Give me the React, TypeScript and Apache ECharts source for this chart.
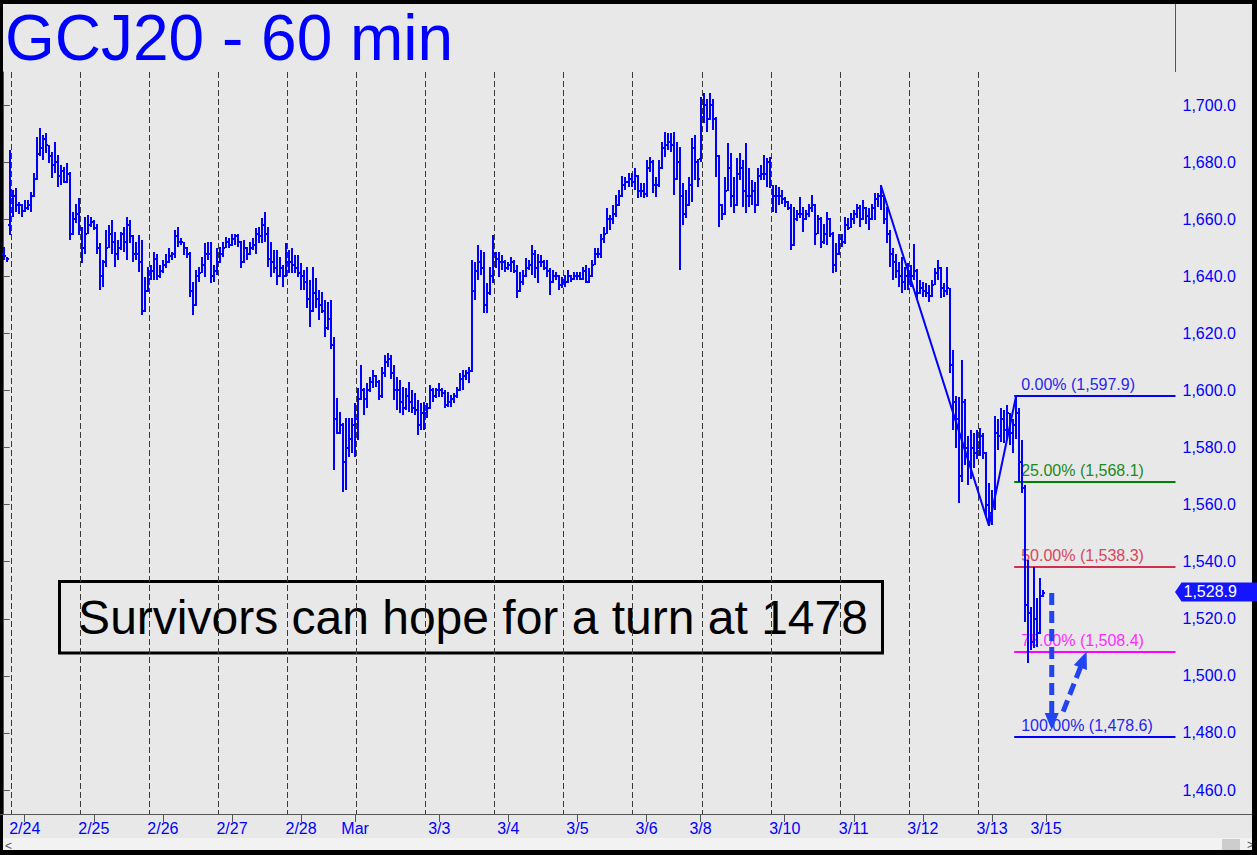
import React, { useEffect, useRef } from "react";
import * as echarts from "echarts";

// ---------- data (hourly bars, index 0..346) ----------
const highs = [
  1650.4, 1646.9, 1684.2, 1670.2, 1670.8, 1666.1, 1665.5, 1666.7, 1666.7, 1669.6,
  1676.1, 1688.9, 1691.9, 1689.5, 1690.1, 1686.0, 1683.7, 1687.2, 1682.5, 1679.0,
  1678.4, 1679.6, 1676.5, 1662.6, 1665.5, 1667.3, 1657.4, 1660.9, 1661.5, 1660.9,
  1659.7, 1658.5, 1651.6, 1645.7, 1656.2, 1658.0, 1659.7, 1655.6, 1652.7, 1655.4,
  1657.4, 1660.9, 1659.7, 1654.5, 1652.1, 1654.5, 1652.7, 1639.9, 1643.4, 1644.0,
  1648.6, 1648.0, 1644.0, 1645.7, 1648.0, 1649.8, 1648.6, 1656.2, 1657.4, 1653.3,
  1652.1, 1650.4, 1648.4, 1638.1, 1642.2, 1643.4, 1646.9, 1651.6, 1652.1, 1652.1,
  1644.0, 1649.8, 1650.4, 1652.1, 1653.9, 1653.3, 1655.0, 1655.0, 1655.0, 1652.5,
  1652.7, 1650.4, 1652.1, 1653.3, 1656.8, 1657.4, 1660.3, 1662.6, 1657.4, 1652.1,
  1649.2, 1649.2, 1646.9, 1644.0, 1651.6, 1649.2, 1649.8, 1647.5, 1647.5, 1644.5,
  1642.2, 1643.4, 1638.7, 1643.4, 1639.3, 1635.2, 1634.6, 1631.7, 1631.1, 1631.7,
  1618.8, 1597.2, 1592.6, 1588.5, 1590.2, 1590.2, 1590.2, 1595.5, 1600.7, 1608.9,
  1600.7, 1602.5, 1604.8, 1607.2, 1605.4, 1603.7, 1608.3, 1612.4, 1613.0, 1612.4,
  1608.9, 1604.8, 1603.7, 1601.3, 1600.7, 1603.1, 1600.2, 1599.0, 1596.7, 1595.5,
  1596.1, 1595.5, 1601.9, 1600.7, 1600.7, 1602.5, 1600.7, 1600.2, 1599.6, 1598.4,
  1599.0, 1601.3, 1606.0, 1607.2, 1607.2, 1608.3, 1645.7, 1645.1, 1651.0, 1649.2,
  1648.6, 1637.5, 1643.4, 1654.5, 1648.6, 1648.6, 1647.5, 1645.7, 1645.1, 1646.9,
  1645.7, 1644.0, 1641.6, 1642.2, 1646.3, 1645.7, 1651.0, 1649.2, 1648.0, 1647.5,
  1645.7, 1645.7, 1642.8, 1642.2, 1641.6, 1640.5, 1639.9, 1640.4, 1642.2, 1640.4,
  1641.6, 1641.6, 1641.6, 1643.4, 1644.0, 1642.8, 1645.7, 1649.8, 1649.8, 1655.0,
  1657.4, 1663.8, 1661.5, 1665.0, 1668.5, 1670.2, 1675.0, 1674.9, 1676.1, 1676.1,
  1677.8, 1675.5, 1672.6, 1672.6, 1680.7, 1681.9, 1680.7, 1674.9, 1680.7, 1687.2,
  1690.7, 1690.1, 1690.1, 1690.7, 1687.2, 1685.4, 1672.6, 1670.2, 1674.9, 1688.3,
  1689.5, 1681.0, 1703.0, 1704.3, 1702.3, 1704.1, 1702.3, 1696.0, 1682.5, 1665.5,
  1674.9, 1686.6, 1683.1, 1674.9, 1681.3, 1683.1, 1680.7, 1686.6, 1677.8, 1673.7,
  1673.1, 1677.8, 1679.0, 1682.5, 1681.3, 1681.9, 1672.0, 1672.0, 1671.4, 1670.2,
  1667.9, 1666.5, 1665.5, 1664.4, 1663.2, 1667.9, 1664.4, 1663.2, 1665.5, 1668.5,
  1665.5, 1661.5, 1660.9, 1658.5, 1662.6, 1660.5, 1655.5, 1651.6, 1655.0, 1655.0,
  1660.9, 1660.3, 1662.1, 1663.2, 1665.5, 1665.0, 1666.7, 1664.4, 1663.8, 1665.5,
  1669.1, 1669.1, 1671.9, 1668.4, 1664.4, 1656.2, 1649.8, 1648.0, 1645.1, 1646.9,
  1643.4, 1644.5, 1643.9, 1651.5, 1642.5, 1638.7, 1638.1, 1637.5, 1636.9, 1638.7,
  1642.8, 1645.7, 1643.4, 1637.5, 1643.4, 1636.0, 1614.2, 1598.0, 1597.8, 1610.7,
  1597.0, 1584.0, 1586.0, 1585.0, 1586.0, 1587.0, 1585.0, 1578.5, 1567.5, 1565.0,
  1591.0, 1590.0, 1594.0, 1593.0, 1595.0, 1592.0, 1590.0, 1597.9, 1594.0, 1582.6,
  1567.0, 1540.6, 1524.3, 1538.3, 1527.2, 1534.2, 1530.1,
];
const lows = [
  1645.7, 1645.1, 1654.4, 1660.9, 1662.6, 1662.0, 1660.9, 1662.6, 1663.2, 1662.6,
  1667.9, 1673.7, 1682.0, 1680.8, 1683.1, 1679.6, 1674.3, 1676.1, 1671.4, 1672.0,
  1672.6, 1672.8, 1652.7, 1654.5, 1658.6, 1654.5, 1644.5, 1648.0, 1655.0, 1657.4,
  1656.2, 1648.0, 1635.2, 1636.4, 1643.4, 1649.8, 1648.0, 1643.4, 1645.7, 1649.2,
  1648.6, 1645.7, 1651.6, 1645.1, 1645.7, 1641.6, 1626.4, 1627.5, 1634.6, 1638.6,
  1638.7, 1638.7, 1639.3, 1641.0, 1642.8, 1644.8, 1645.7, 1646.3, 1650.4, 1651.0,
  1647.5, 1646.3, 1632.9, 1626.4, 1629.5, 1638.1, 1641.0, 1639.9, 1645.7, 1637.5,
  1638.1, 1640.4, 1644.5, 1646.9, 1649.8, 1649.8, 1650.5, 1651.0, 1650.4, 1642.8,
  1644.5, 1645.7, 1647.5, 1649.2, 1648.0, 1651.6, 1651.6, 1652.1, 1643.4, 1639.9,
  1641.0, 1637.0, 1639.9, 1636.4, 1639.9, 1641.0, 1641.0, 1641.0, 1639.9, 1635.2,
  1635.2, 1628.8, 1622.3, 1627.6, 1628.8, 1624.6, 1627.0, 1618.8, 1621.2, 1614.7,
  1572.1, 1584.6, 1584.6, 1564.5, 1565.1, 1576.8, 1578.0, 1576.8, 1582.6, 1596.7,
  1591.4, 1593.7, 1599.6, 1600.7, 1601.3, 1596.7, 1597.5, 1604.8, 1608.3, 1604.2,
  1596.7, 1593.2, 1592.0, 1591.4, 1593.2, 1592.6, 1592.0, 1591.4, 1584.4, 1586.2,
  1586.2, 1590.2, 1593.5, 1596.1, 1597.2, 1597.8, 1597.8, 1593.7, 1594.3, 1594.3,
  1595.5, 1597.2, 1599.8, 1600.2, 1603.7, 1602.5, 1606.5, 1631.7, 1638.7, 1640.4,
  1627.0, 1627.0, 1633.5, 1637.5, 1642.8, 1639.9, 1642.2, 1641.6, 1642.2, 1641.6,
  1641.0, 1632.3, 1634.6, 1637.0, 1639.8, 1642.2, 1640.4, 1639.3, 1637.5, 1643.4,
  1642.2, 1639.9, 1633.4, 1637.5, 1638.7, 1635.2, 1635.8, 1636.4, 1637.5, 1638.1,
  1638.7, 1638.7, 1638.7, 1638.7, 1637.5, 1637.5, 1639.9, 1643.8, 1646.3, 1646.3,
  1651.6, 1654.8, 1656.2, 1658.5, 1660.9, 1664.8, 1667.9, 1670.2, 1671.4, 1671.4,
  1670.2, 1667.3, 1667.9, 1667.3, 1667.9, 1676.6, 1669.1, 1667.9, 1671.4, 1677.5,
  1681.9, 1684.2, 1683.7, 1668.5, 1673.7, 1642.2, 1658.0, 1660.3, 1664.5, 1666.1,
  1673.7, 1671.4, 1680.2, 1693.6, 1690.7, 1694.8, 1691.2, 1674.9, 1657.4, 1659.7,
  1661.5, 1669.8, 1664.4, 1662.1, 1664.8, 1673.7, 1664.4, 1662.1, 1664.4, 1665.0,
  1662.1, 1664.8, 1673.7, 1673.7, 1671.4, 1670.8, 1662.6, 1662.1, 1665.0, 1665.5,
  1664.4, 1663.2, 1649.2, 1650.5, 1659.5, 1660.3, 1655.6, 1659.7, 1660.9, 1662.6,
  1651.0, 1655.0, 1649.8, 1651.5, 1651.0, 1653.9, 1641.0, 1641.6, 1647.5, 1650.4,
  1651.5, 1656.2, 1656.8, 1658.5, 1660.3, 1657.4, 1659.6, 1658.5, 1656.2, 1659.8,
  1659.7, 1664.4, 1663.2, 1658.5, 1651.6, 1643.4, 1638.7, 1639.3, 1636.4, 1634.0,
  1635.2, 1635.2, 1636.4, 1638.7, 1631.7, 1633.8, 1632.9, 1632.9, 1631.1, 1632.9,
  1636.8, 1638.7, 1632.3, 1632.9, 1633.4, 1606.0, 1586.0, 1580.0, 1560.5, 1568.0,
  1574.0, 1567.0, 1569.0, 1573.0, 1576.0, 1577.0, 1576.0, 1556.0, 1552.6, 1553.0,
  1558.0, 1579.0, 1582.0, 1581.5, 1583.0, 1581.0, 1578.0, 1583.0, 1568.0, 1564.0,
  1519.0, 1504.4, 1509.1, 1509.7, 1510.2, 1514.6, 1527.8,
];
const opens = [
  1648, 1647, 1658, 1668, 1668, 1665, 1665, 1663, 1664, 1665,
  1668, 1674, 1683, 1685, 1688, 1686, 1682, 1679, 1680, 1675,
  1677, 1673, 1676, 1655, 1660, 1662, 1657, 1650, 1655, 1658,
  1659, 1657, 1650, 1640, 1645, 1650, 1655, 1652, 1648, 1650,
  1655, 1652, 1658, 1654, 1648, 1648, 1645, 1628, 1635, 1639,
  1642, 1646, 1640, 1642, 1644, 1645, 1647, 1648, 1654, 1652,
  1652, 1650, 1648, 1635, 1630, 1640, 1641, 1644, 1648, 1648,
  1640, 1642, 1645, 1648, 1650, 1652, 1651, 1653, 1654, 1652,
  1645, 1650, 1648, 1650, 1651, 1655, 1654, 1658, 1655, 1646,
  1645, 1643, 1640, 1643, 1640, 1645, 1645, 1644, 1643, 1641,
  1640, 1638, 1632, 1628, 1634, 1632, 1630, 1628, 1622, 1625,
  1616, 1590, 1585, 1588, 1575, 1580, 1583, 1588, 1590, 1597,
  1600, 1597, 1600, 1603, 1605, 1603, 1598, 1606, 1610, 1611,
  1606, 1600, 1600, 1596, 1594, 1598, 1596, 1594, 1593, 1588,
  1592, 1592, 1594, 1600, 1598, 1600, 1600, 1599, 1595, 1596,
  1597, 1598, 1600, 1604, 1605, 1606, 1607, 1635, 1642, 1645,
  1643, 1630, 1634, 1640, 1648, 1646, 1645, 1645, 1643, 1644,
  1645, 1642, 1635, 1638, 1640, 1643, 1644, 1648, 1643, 1645,
  1645, 1643, 1642, 1638, 1640, 1640, 1637, 1638, 1638, 1640,
  1639, 1640, 1640, 1639, 1642, 1638, 1640, 1644, 1648, 1648,
  1653, 1655, 1660, 1660, 1662, 1665, 1668, 1672, 1673, 1674,
  1673, 1675, 1670, 1670, 1669, 1678, 1680, 1672, 1672, 1678,
  1685, 1686, 1687, 1686, 1674, 1680, 1668, 1662, 1665, 1672,
  1685, 1680, 1681, 1696, 1700, 1695, 1700, 1695, 1682, 1665,
  1662, 1670, 1678, 1668, 1665, 1676, 1678, 1670, 1668, 1668,
  1670, 1665, 1675, 1676, 1676, 1680, 1672, 1668, 1668, 1668,
  1667, 1666, 1664, 1651, 1660, 1662, 1662, 1660, 1662, 1664,
  1665, 1655, 1660, 1652, 1655, 1660, 1655, 1644, 1648, 1653,
  1652, 1658, 1657, 1660, 1662, 1664, 1660, 1664, 1661, 1660,
  1664, 1667, 1668, 1668, 1660, 1655, 1648, 1645, 1642, 1640,
  1638, 1640, 1638, 1640, 1642, 1634, 1636, 1635, 1634, 1633,
  1637, 1641, 1643, 1636, 1635, 1636, 1609, 1596, 1590, 1570,
  1596, 1580, 1575, 1580, 1578, 1580, 1584, 1578, 1560, 1557,
  1560, 1585, 1584, 1590, 1586, 1592, 1585, 1588, 1592, 1575,
  1566, 1525, 1522, 1512, 1520, 1515, 1528,
];
const closes = [
  1647, 1646, 1668, 1668, 1665, 1665, 1663, 1664, 1665, 1668,
  1674, 1683, 1685, 1688, 1686, 1682, 1679, 1680, 1675, 1677,
  1673, 1676, 1655, 1660, 1662, 1657, 1650, 1655, 1658, 1659,
  1657, 1650, 1640, 1645, 1650, 1655, 1652, 1648, 1650, 1655,
  1652, 1658, 1654, 1648, 1648, 1645, 1628, 1635, 1639, 1642,
  1646, 1640, 1642, 1644, 1645, 1647, 1648, 1654, 1652, 1652,
  1650, 1648, 1635, 1630, 1640, 1641, 1644, 1648, 1648, 1640,
  1642, 1645, 1648, 1650, 1652, 1651, 1653, 1654, 1652, 1645,
  1650, 1648, 1650, 1651, 1655, 1654, 1658, 1655, 1646, 1645,
  1643, 1640, 1643, 1640, 1645, 1645, 1644, 1643, 1641, 1640,
  1638, 1632, 1628, 1634, 1632, 1630, 1628, 1622, 1625, 1616,
  1590, 1585, 1588, 1575, 1580, 1583, 1588, 1590, 1597, 1600,
  1597, 1600, 1603, 1605, 1603, 1598, 1606, 1610, 1611, 1606,
  1600, 1600, 1596, 1594, 1598, 1596, 1594, 1593, 1588, 1592,
  1592, 1594, 1600, 1598, 1600, 1600, 1599, 1595, 1596, 1597,
  1598, 1600, 1604, 1605, 1606, 1607, 1635, 1642, 1645, 1643,
  1630, 1634, 1640, 1648, 1646, 1645, 1645, 1643, 1644, 1645,
  1642, 1635, 1638, 1640, 1643, 1644, 1648, 1643, 1645, 1645,
  1643, 1642, 1638, 1640, 1640, 1637, 1638, 1638, 1640, 1639,
  1640, 1640, 1639, 1642, 1638, 1640, 1644, 1648, 1648, 1653,
  1655, 1660, 1660, 1662, 1665, 1668, 1672, 1673, 1674, 1673,
  1675, 1670, 1670, 1669, 1678, 1680, 1672, 1672, 1678, 1685,
  1686, 1687, 1686, 1674, 1680, 1668, 1662, 1665, 1672, 1685,
  1680, 1674, 1696, 1700, 1695, 1700, 1695, 1682, 1665, 1662,
  1670, 1678, 1668, 1665, 1676, 1678, 1670, 1668, 1668, 1670,
  1665, 1675, 1676, 1676, 1680, 1672, 1668, 1668, 1668, 1667,
  1666, 1664, 1651, 1660, 1662, 1662, 1660, 1662, 1664, 1665,
  1655, 1660, 1652, 1655, 1660, 1655, 1644, 1648, 1653, 1652,
  1658, 1657, 1660, 1662, 1664, 1660, 1664, 1661, 1660, 1664,
  1667, 1668, 1668, 1660, 1655, 1648, 1645, 1642, 1640, 1638,
  1640, 1638, 1640, 1642, 1634, 1636, 1635, 1634, 1633, 1637,
  1641, 1643, 1636, 1635, 1636, 1609, 1596, 1590, 1570, 1596,
  1580, 1575, 1580, 1578, 1580, 1584, 1578, 1560, 1557, 1560,
  1585, 1584, 1590, 1586, 1592, 1585, 1588, 1592, 1575, 1566,
  1525, 1522, 1512, 1520, 1515, 1528, 1528.9,
];

const sessionStartBars = [2, 25, 48, 71, 94, 117, 140, 163, 186, 209, 232, 255, 278, 301, 324];
const dateLabels = ["2/24", "2/25", "2/26", "2/27", "2/28", "Mar", "3/3", "3/4", "3/5", "3/6", "3/8", "3/10", "3/11", "3/12", "3/13", "3/15"];
const dateLabelBars = [7, 30, 53, 76, 99, 117, 145, 168, 191, 214, 232, 260, 283, 306, 329, 347];
const priceTicks = [1460, 1480, 1500, 1520, 1540, 1560, 1580, 1600, 1620, 1640, 1660, 1680, 1700];

const zigzagPoints = [[292, 1671.9], [328, 1552.6], [337, 1597.9]];
const fibStartBar = 336.4;
const fibPct = ["0.00%", "25.00%", "50.00%", "75.00%", "100.00%"];
const fibValues = [1597.9, 1568.1, 1538.3, 1508.4, 1478.6];
const lastPrice = 1528.9;
const arrowSegments = [
  [348.9, 1529.0, 348.9, 1481.0],
  [352.7, 1487.5, 360.5, 1508.5],
];
const titleText = "GCJ20 - 60 min";
const noteText = "Survivors can hope for a turn at 1478";

// ---------- styles ----------
const BLUE = "#0000ff";
const FONT = "'Liberation Sans', Arial, sans-serif";
const fibLineColors = ["#0000ff", "#008000", "#d0304c", "#ff00ff", "#0000ff"];
const fibTextColors = ["#2626f0", "#1c8a1c", "#d8465a", "#ff2cff", "#2626f0"];

const fmtPrice = (v: number) =>
  v.toLocaleString("en-US", { minimumFractionDigits: 1, maximumFractionDigits: 1 });

export default function App() {
  const ref = useRef<HTMLDivElement>(null);

  useEffect(() => {
    if (!ref.current) return;
    const chart = echarts.init(ref.current, null, { renderer: "svg" });

    const ohlcData = highs.map((h, i) => [i, opens[i], h, lows[i], closes[i]]);

    const option: any = {
      animation: false,
      backgroundColor: "#e8e8e8",
      grid: { left: 0, top: 72, width: 1175.5, height: 742 },
      xAxis: {
        type: "value",
        min: -1.232,
        max: 390.1,
        axisLine: { show: true, onZero: false, lineStyle: { color: "#555", width: 1 } },
        axisTick: { show: true, length: 8, customValues: dateLabelBars, lineStyle: { color: "#555" } },
        axisLabel: {
          customValues: dateLabelBars,
          color: BLUE,
          fontSize: 16,
          fontFamily: FONT,
          margin: 6,
          formatter: (v: number) => {
            const k = dateLabelBars.indexOf(v);
            return k >= 0 ? dateLabels[k] : "";
          },
        },
        splitLine: { show: false },
      },
      yAxis: {
        type: "value",
        position: "right",
        min: 1451.6,
        max: 1711.6,
        axisLine: { show: true, lineStyle: { color: "#555", width: 1 } },
        axisTick: { show: true, length: 6, customValues: priceTicks, lineStyle: { color: "#555" } },
        axisLabel: {
          customValues: priceTicks,
          color: BLUE,
          fontSize: 16,
          fontFamily: FONT,
          margin: 7,
          formatter: (v: number) => fmtPrice(v),
        },
        splitLine: { show: false },
      },
      series: [
        {
          type: "custom",
          name: "sessions",
          z: 1,
          silent: true,
          data: sessionStartBars.map((s) => [s]),
          encode: { x: 0 },
          renderItem: (params: any, api: any) => {
            const cs = params.coordSys;
            const x = Math.round(api.coord([api.value(0) + 0.33, 1600])[0]) + 0.5;
            return {
              type: "line",
              shape: { x1: x, y1: cs.y, x2: x, y2: cs.y + cs.height },
              style: { stroke: "#3a3a3a", lineWidth: 1, lineDash: [6, 3] },
            };
          },
        },
        {
          type: "custom",
          name: "fib",
          z: 2,
          silent: true,
          data: fibValues.map((v, k) => [fibStartBar, v, k]),
          encode: { x: 0, y: 1 },
          renderItem: (params: any, api: any) => {
            const cs = params.coordSys;
            const k = api.value(2);
            const v = api.value(1);
            const p = api.coord([api.value(0), v]);
            const right = cs.x + cs.width;
            const y = Math.round(p[1]);
            return {
              type: "group",
              children: [
                {
                  type: "line",
                  shape: { x1: p[0], y1: y, x2: right, y2: y },
                  style: { stroke: fibLineColors[k], lineWidth: 2 },
                },
                {
                  type: "text",
                  x: p[0] + 7,
                  y: y - 11.5,
                  style: {
                    text: fibPct[k] + " (" + fmtPrice(v) + ")",
                    fill: fibTextColors[k],
                    font: "16px " + FONT,
                    align: "left",
                    verticalAlign: "middle",
                  },
                },
              ],
            };
          },
        },
        {
          type: "custom",
          name: "GCJ20",
          z: 3,
          silent: true,
          data: ohlcData,
          encode: { x: 0, y: [1, 2, 3, 4] },
          renderItem: (params: any, api: any) => {
            const i = api.value(0);
            const hp = api.coord([i, api.value(2)]);
            const x = Math.round(hp[0]);
            const yH = Math.round(hp[1]);
            const yL = Math.round(api.coord([i, api.value(3)])[1]);
            const yO = Math.round(api.coord([i, api.value(1)])[1]);
            const yC = Math.round(api.coord([i, api.value(4)])[1]);
            return {
              type: "group",
              children: [
                { type: "rect", shape: { x: x - 1, y: yH, width: 2, height: Math.max(2, yL - yH) }, style: { fill: BLUE } },
                { type: "rect", shape: { x: x - 2, y: yO - 1, width: 1, height: 2 }, style: { fill: BLUE } },
                { type: "rect", shape: { x: x + 1, y: yC - 1, width: 1, height: 2 }, style: { fill: BLUE } },
              ],
            };
          },
        },
        {
          type: "line",
          name: "zigzag",
          z: 4,
          silent: true,
          data: zigzagPoints,
          symbol: "none",
          lineStyle: { color: BLUE, width: 2 },
        },
        {
          type: "custom",
          name: "arrows",
          z: 5,
          silent: true,
          data: arrowSegments,
          encode: { x: [0, 2], y: [1, 3] },
          renderItem: (params: any, api: any) => {
            const p1 = api.coord([api.value(0), api.value(1)]);
            const p2 = api.coord([api.value(2), api.value(3)]);
            const dx = p2[0] - p1[0];
            const dy = p2[1] - p1[1];
            const len = Math.sqrt(dx * dx + dy * dy);
            const ux = dx / len;
            const uy = dy / len;
            const nx = -uy;
            const ny = ux;
            const hl = 17;
            const hw = 7;
            const bx = p2[0] - ux * hl;
            const by = p2[1] - uy * hl;
            return {
              type: "group",
              children: [
                {
                  type: "line",
                  shape: { x1: p1[0], y1: p1[1], x2: bx + ux * 2, y2: by + uy * 2 },
                  style: { stroke: "#2244f0", lineWidth: 5, lineDash: [12, 6] },
                },
                {
                  type: "polygon",
                  shape: { points: [[p2[0], p2[1]], [bx + nx * hw, by + ny * hw], [bx - nx * hw, by - ny * hw]] },
                  style: { fill: "#2244f0" },
                },
              ],
            };
          },
        },
        {
          type: "custom",
          name: "lastTag",
          z: 6,
          silent: true,
          data: [[0, lastPrice]],
          encode: { y: 1 },
          renderItem: (params: any, api: any) => {
            const cs = params.coordSys;
            const v = api.value(1);
            const y = api.coord([0, v])[1] - 1.5;
            const x0 = cs.x + cs.width;
            return {
              type: "group",
              children: [
                {
                  type: "polygon",
                  shape: { points: [[x0 - 0.5, y], [x0 + 6, y - 9.5], [1257, y - 9.5], [1257, y + 9.5], [x0 + 6, y + 9.5]] },
                  style: { fill: "#1414ff" },
                },
                {
                  type: "text",
                  x: x0 + 8,
                  y: y,
                  style: { text: fmtPrice(v), fill: "#ffffff", font: "16px " + FONT, align: "left", verticalAlign: "middle" },
                },
              ],
            };
          },
        },
      ],
      graphic: [
        { type: "line", silent: true, shape: { x1: 1175.5, y1: 4, x2: 1175.5, y2: 72 }, style: { stroke: "#555", lineWidth: 1 } },
        { type: "line", silent: true, shape: { x1: 1175, y1: 814.5, x2: 1253, y2: 814.5 }, style: { stroke: "#555", lineWidth: 1 } },
        {
          type: "text",
          silent: true,
          x: 5,
          y: 38,
          style: { text: titleText, fill: BLUE, font: "64px " + FONT, align: "left", verticalAlign: "middle" },
        },
        {
          type: "rect",
          silent: true,
          shape: { x: 59.5, y: 581.5, width: 823, height: 71.5 },
          style: { fill: "none", stroke: "#000", lineWidth: 3 },
        },
        {
          type: "text",
          silent: true,
          x: 473,
          y: 617,
          style: { text: noteText, fill: "#000", font: "48px " + FONT, align: "center", verticalAlign: "middle" },
        },
        { type: "rect", silent: true, shape: { x: 3, y: 838, width: 1249, height: 12 }, style: { fill: "#f2f2f2" } },
        { type: "rect", silent: true, shape: { x: 1222, y: 839, width: 18, height: 11 }, style: { fill: "#cdcdcd" } },
        { type: "text", silent: true, x: 1247, y: 845, style: { text: ">", fill: "#555", font: "12px " + FONT, align: "left", verticalAlign: "middle" } },
        { type: "text", silent: true, x: 5, y: 846, style: { text: "<", fill: "#555", font: "12px " + FONT, align: "left", verticalAlign: "middle" } },
        { type: "rect", silent: true, shape: { x: 0, y: 0, width: 1257, height: 4 }, style: { fill: "#000" } },
        { type: "rect", silent: true, shape: { x: 0, y: 0, width: 3, height: 855 }, style: { fill: "#000" } },
        { type: "rect", silent: true, shape: { x: 1252, y: 0, width: 5, height: 855 }, style: { fill: "#000" } },
        { type: "rect", silent: true, shape: { x: 0, y: 850, width: 1257, height: 5 }, style: { fill: "#000" } },
      ],
    };

    chart.setOption(option);
    return () => chart.dispose();
  }, []);

  return <div ref={ref} style={{ position: "absolute", left: 0, top: 0, width: 1257, height: 855 }} />;
}
